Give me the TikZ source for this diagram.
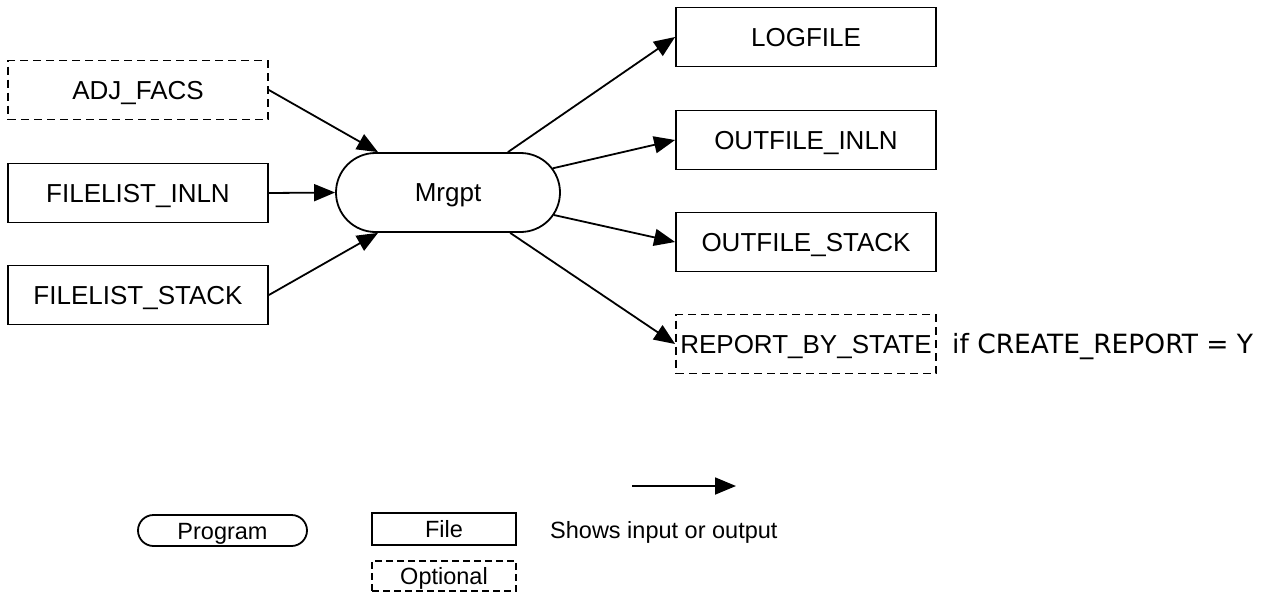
\documentclass[tikz,border=0pt]{standalone}
\usepackage{fontspec}
\setmainfont{Liberation Sans}
\newfontfamily\condfont{DejaVu Sans}
\usetikzlibrary{arrows.meta,shapes.misc,calc}
\begin{document}
\begin{tikzpicture}[x=1pt,y=-1pt,
  mainfont/.style={font=\fontsize{26}{30}\selectfont,text height=18.5pt,text depth=0pt},
  legfont/.style={font=\fontsize{23.5}{28}\selectfont,text height=17pt,text depth=0pt},
  filebox/.style={draw,line width=1.8pt,minimum width=260pt,minimum height=59pt,inner sep=0pt,mainfont},
  optbox/.style={filebox,dash pattern=on 8pt off 5pt},
  progbox/.style={draw,rounded rectangle,line width=1.8pt,minimum width=224pt,minimum height=79pt,inner sep=0pt,mainfont},
  legfile/.style={draw,line width=1.8pt,minimum width=144pt,minimum height=32pt,inner sep=0pt,legfont},
  legopt/.style={legfile,minimum height=30pt,dash pattern=on 7pt off 4pt},
  legprog/.style={draw,rounded rectangle,line width=1.8pt,minimum width=169pt,minimum height=31pt,inner sep=0pt,legfont},
  conn/.style={line width=1.8pt,-{Triangle[length=21pt,width=17pt]}},
]
\useasboundingbox (0,0) rectangle (1275,595);

% inputs
\node[optbox] (adj) at (138,90) {ADJ\_FACS};
\node[filebox] (inln) at (138,193) {FILELIST\_INLN};
\node[filebox] (stack) at (138,295) {FILELIST\_STACK};

% program
\node[progbox] (m) at (448,192.5) {Mrgpt};

% outputs
\node[filebox] (log) at (806,37) {LOGFILE};
\node[filebox] (oinln) at (806,140) {OUTFILE\_INLN};
\node[filebox] (ostack) at (806,242) {OUTFILE\_STACK};
\node[optbox] (rep) at (806,344) {REPORT\_BY\_STATE};
\node[anchor=base west,inner sep=0pt,font=\condfont\fontsize{26.5}{30}\selectfont] (cond) at (952,353) {if CREATE\_REPORT = Y};

% connectors
\draw[conn] (adj.east) -- (m.150);
\draw[conn] (inln.east) -- (m.west);
\draw[conn] (stack.east) -- (m.210);
\draw[conn] (m.34.5) -- (log.west);
\draw[conn] (m.13.6) -- (oinln.west);
\draw[conn] (m.-12.9) -- (ostack.west);
\draw[conn] (m.-33.8) -- (rep.west);

% legend
\node[legprog] (lprog) at (222.5,530.5) {Program};
\node[legfile] (lfile) at (444,529) {File};
\node[legopt] (lopt) at (444,576) {Optional};
\coordinate (la) at (632,486);
\coordinate (lb) at (736,486);
\draw[conn] (la) -- (lb);
\node[anchor=west,inner sep=0pt,legfont] (shows) at (550,530) {Shows input or output};
\end{tikzpicture}
\end{document}
